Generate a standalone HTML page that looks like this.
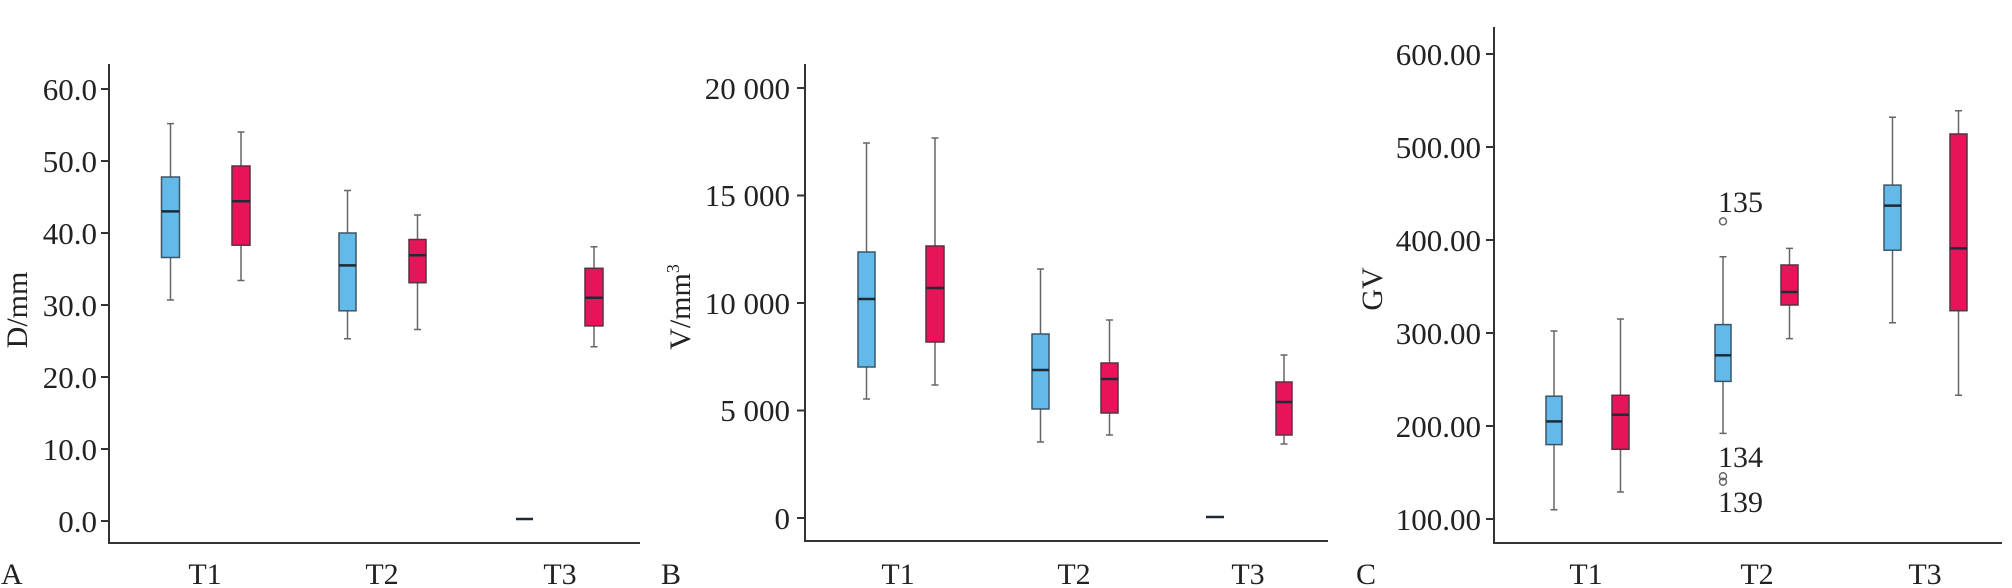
<!DOCTYPE html>
<html><head><meta charset="utf-8"><style>
html,body{margin:0;padding:0;background:#fff;}
svg{display:block;}
text{font-family:"Liberation Serif",serif;fill:#222;}
.ax{stroke:#333;stroke-width:2;fill:none;}
.wk{stroke:#666;stroke-width:1.5;fill:none;}
.bb{fill:#63b9e7;stroke:#3c5566;stroke-width:1.5;}
.rb{fill:#e8145a;stroke:#5a3040;stroke-width:1.5;}
.md{stroke:#1e2a35;stroke-width:2.5;}
.tk{font-size:31px;}
</style></head><body>
<svg width="2012" height="588" viewBox="0 0 2012 588" xmlns="http://www.w3.org/2000/svg">
<!-- Panel A -->
<g font-size="30">
<path class="ax" d="M109,64 V543 H640"/>
<g class="ax"><path d="M101,89H109M101,161H109M101,233H109M101,305H109M101,377H109M101,449H109M101,521H109"/></g>
<g text-anchor="end" class="tk">
<text x="97" y="100">60.0</text><text x="97" y="172">50.0</text><text x="97" y="244">40.0</text>
<text x="97" y="316">30.0</text><text x="97" y="388">20.0</text><text x="97" y="460">10.0</text><text x="97" y="532">0.0</text>
</g>
<text transform="translate(27,310) rotate(-90)" text-anchor="middle">D/mm</text>
<text x="1" y="584">A</text>
<g text-anchor="middle"><text x="205" y="584">T1</text><text x="382" y="584">T2</text><text x="560" y="584">T3</text></g>
</g>
<path class="wk" d="M170.5,123.6V300M167,123.6H174M167,300H174"/>
<rect class="bb" x="161.5" y="177" width="18" height="80.5"/><path class="md" d="M161.5,211.4H179.5"/>
<path class="wk" d="M241,132V280.5M237.5,132H244.5M237.5,280.5H244.5"/>
<rect class="rb" x="232" y="166" width="18" height="79.2"/><path class="md" d="M232,201.3H250"/>
<path class="wk" d="M347.5,190.5V338.8M344,190.5H351M344,338.8H351"/>
<rect class="bb" x="339" y="233" width="17" height="77.8"/><path class="md" d="M339,265.4H356"/>
<path class="wk" d="M417.5,215V329.5M414,215H421M414,329.5H421"/>
<rect class="rb" x="409" y="239.5" width="17" height="43.2"/><path class="md" d="M409,255.3H426"/>
<path class="md" d="M516,519H533"/>
<path class="wk" d="M594,246.7V346.8M590.5,246.7H597.5M590.5,346.8H597.5"/>
<rect class="rb" x="585" y="268.3" width="18" height="57.6"/><path class="md" d="M585,297.8H603"/>

<!-- Panel B -->
<g font-size="30">
<path class="ax" d="M805,64 V541 H1328"/>
<g class="ax"><path d="M797,88H805M797,195.5H805M797,303H805M797,410.5H805M797,518H805"/></g>
<g text-anchor="end" class="tk">
<text x="790" y="99">20 000</text><text x="790" y="206">15 000</text><text x="790" y="314">10 000</text>
<text x="790" y="421">5 000</text><text x="790" y="529">0</text>
</g>
<text transform="translate(690,307) rotate(-90)" text-anchor="middle">V/mm<tspan dy="-11" font-size="18">3</tspan></text>
<text x="661" y="584">B</text>
<g text-anchor="middle"><text x="898" y="584">T1</text><text x="1074" y="584">T2</text><text x="1248" y="584">T3</text></g>
</g>
<path class="wk" d="M866.5,143V399M863,143H870M863,399H870"/>
<rect class="bb" x="858" y="252" width="17" height="115"/><path class="md" d="M858,299H875"/>
<path class="wk" d="M935,138V385M931.5,138H938.5M931.5,385H938.5"/>
<rect class="rb" x="926" y="246" width="18" height="96"/><path class="md" d="M926,288H944"/>
<path class="wk" d="M1040.5,269V442M1037,269H1044M1037,442H1044"/>
<rect class="bb" x="1032" y="334" width="17" height="75"/><path class="md" d="M1032,370H1049"/>
<path class="wk" d="M1109.5,320V435M1106,320H1113M1106,435H1113"/>
<rect class="rb" x="1101" y="363" width="17" height="50"/><path class="md" d="M1101,379H1118"/>
<path class="md" d="M1206,517H1224"/>
<path class="wk" d="M1284,355V444M1280.5,355H1287.5M1280.5,444H1287.5"/>
<rect class="rb" x="1276" y="382" width="16" height="53"/><path class="md" d="M1276,402H1292"/>

<!-- Panel C -->
<g font-size="30">
<path class="ax" d="M1494,27 V543 H2002"/>
<g class="ax"><path d="M1486,54H1494M1486,147H1494M1486,240H1494M1486,333H1494M1486,426H1494M1486,519H1494"/></g>
<g text-anchor="end" class="tk">
<text x="1481" y="65">600.00</text><text x="1481" y="158">500.00</text><text x="1481" y="251">400.00</text>
<text x="1481" y="344">300.00</text><text x="1481" y="437">200.00</text><text x="1481" y="530">100.00</text>
</g>
<text transform="translate(1382,289) rotate(-90)" text-anchor="middle">GV</text>
<text x="1356" y="584">C</text>
<g text-anchor="middle"><text x="1586" y="584">T1</text><text x="1757" y="584">T2</text><text x="1925" y="584">T3</text></g>
<text x="1718" y="212">135</text><text x="1718" y="467">134</text><text x="1718" y="512">139</text>
</g>
<path class="wk" d="M1554,331V509.7M1550.5,331H1557.5M1550.5,509.7H1557.5"/>
<rect class="bb" x="1546" y="396.2" width="16" height="48.4"/><path class="md" d="M1546,421.4H1562"/>
<path class="wk" d="M1620.5,319V492M1617,319H1624M1617,492H1624"/>
<rect class="rb" x="1612" y="395.3" width="17" height="54"/><path class="md" d="M1612,414.8H1629"/>
<path class="wk" d="M1723,256.7V433.4M1719.5,256.7H1726.5M1719.5,433.4H1726.5"/>
<rect class="bb" x="1715" y="324.6" width="16" height="56.8"/><path class="md" d="M1715,355.3H1731"/>
<g fill="none" stroke="#666" stroke-width="1.5"><circle cx="1723" cy="221.4" r="3.5"/><circle cx="1723" cy="476.2" r="3.5"/><circle cx="1723" cy="481.8" r="3.5"/></g>
<path class="wk" d="M1789.5,248.4V338.6M1786,248.4H1793M1786,338.6H1793"/>
<rect class="rb" x="1781" y="265" width="17" height="40"/><path class="md" d="M1781,292H1798"/>
<path class="wk" d="M1892.5,117.2V322.8M1889,117.2H1896M1889,322.8H1896"/>
<rect class="bb" x="1884" y="185.1" width="17" height="65.1"/><path class="md" d="M1884,205.6H1901"/>
<path class="wk" d="M1958.5,110.7V395.3M1955,110.7H1962M1955,395.3H1962"/>
<rect class="rb" x="1950" y="134" width="17" height="176.7"/><path class="md" d="M1950,248.4H1967"/>
</svg>
</body></html>
